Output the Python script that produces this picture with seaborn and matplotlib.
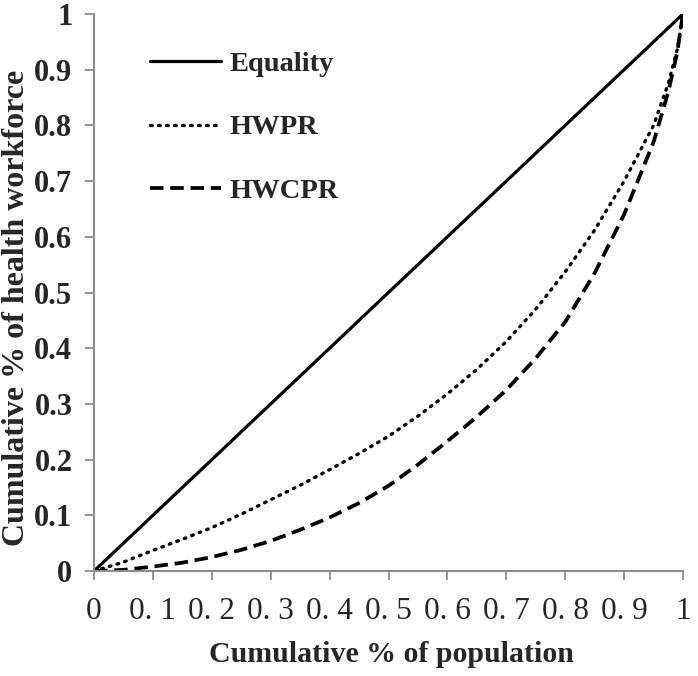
import numpy as np
import pandas as pd
import matplotlib
matplotlib.use("Agg")
import matplotlib.pyplot as plt
import seaborn as sns

# Lorenz curves
pop_share = [0, 0.05, 0.1, 0.15, 0.2, 0.25, 0.3, 0.35, 0.4, 0.45, 0.5, 0.55,
             0.6, 0.65, 0.7, 0.75, 0.8, 0.85, 0.9, 0.95, 0.975, 0.99, 1]
equality = [0, 1]
hwpr = [0, 0.016, 0.037, 0.057, 0.078, 0.102, 0.128, 0.154, 0.182, 0.211,
        0.242, 0.278, 0.318, 0.362, 0.412, 0.470, 0.537, 0.612, 0.70, 0.80,
        0.875, 0.935, 1]
hwcpr = [0, 0.002, 0.008, 0.015, 0.025, 0.038, 0.054, 0.074, 0.096, 0.122,
         0.153, 0.191, 0.233, 0.277, 0.325, 0.382, 0.447, 0.535, 0.64, 0.77,
         0.86, 0.93, 1]
ticks = [0, 0.1, 0.2, 0.3, 0.4, 0.5, 0.6, 0.7, 0.8, 0.9, 1]
xtick_labels = ["0", "0. 1", "0. 2", "0. 3", "0. 4", "0. 5", "0. 6", "0. 7", "0. 8", "0. 9", "1"]
ytick_labels = ["0", "0.1", "0.2", "0.3", "0.4", "0.5", "0.6", "0.7", "0.8", "0.9", "1"]

sns.set_style("white")
plt.rcParams["font.family"] = ["Liberation Serif", "DejaVu Serif"]
GREY = "#8c8c8c"

fig = plt.figure(figsize=(6.98, 6.76), dpi=100)
ax = fig.add_axes([0.1347, 0.1553, 0.8438, 0.824])

sns.lineplot(x=equality, y=equality, ax=ax, color="black", linewidth=2.3,
             label="Equality")
sns.lineplot(x=pop_share, y=hwpr, ax=ax, color="black", linewidth=2.4,
             linestyle=(0, (0.5, 1.9)), dash_capstyle="round", label="HWPR", sort=False)
sns.lineplot(x=pop_share, y=hwcpr, ax=ax, color="black", linewidth=2.7,
             linestyle=(0, (3.6, 1.8)), label="HWCPR", sort=False)

ax.set_xlim(0, 1)
ax.set_ylim(0, 1)
ax.set_xticks(ticks)
ax.set_xticklabels(xtick_labels, fontsize=22.5)
ax.set_yticks(ticks)
ax.set_yticklabels(ytick_labels, fontsize=22, fontweight="bold")
ax.tick_params(axis="both", direction="out", length=6.5, width=1.3, color=GREY,
               pad=9, bottom=True, left=True)
ax.tick_params(axis="x", pad=12)
for side in ["top", "right"]:
    ax.spines[side].set_visible(False)
for side in ["left", "bottom"]:
    ax.spines[side].set_color(GREY)
    ax.spines[side].set_linewidth(1.5)

ax.set_xlabel("Cumulative % of population", fontsize=21.5, fontweight="bold")
ax.set_ylabel("Cumulative % of health workforce", fontsize=23, fontweight="bold")
ax.xaxis.set_label_coords(0.505, -0.125)
ax.yaxis.set_label_coords(-0.107, 0.472)

ax.legend(loc="upper left", bbox_to_anchor=(0.095, 0.933), frameon=False,
          prop={"weight": "bold", "size": 20.5}, handlelength=2.5,
          handletextpad=0.3, labelspacing=1.31, borderpad=0, borderaxespad=0)

fig.savefig("out.png", dpi=100)
